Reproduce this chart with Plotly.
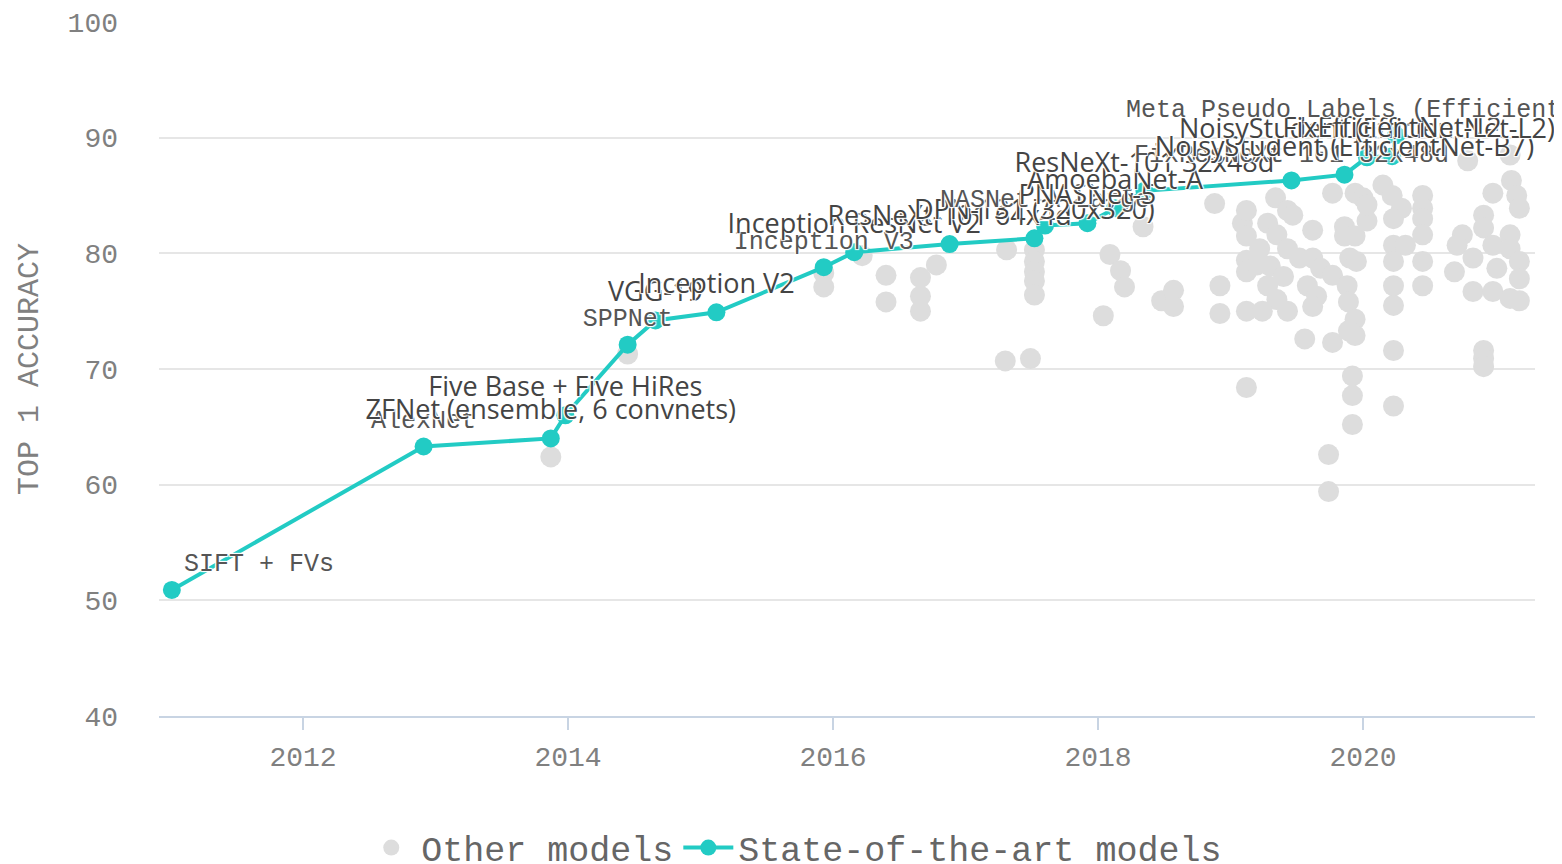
import plotly.graph_objects as go

# state-of-the-art models (year as decimal, top-1 accuracy %)
sota_names = [
    "SIFT + FVs", "AlexNet", "ZFNet (ensemble, 6 convnets)", "Five Base + Five HiRes",
    "SPPNet", "VGG-19", "Inception V2", "Inception V3", "Inception ResNet V2",
    "ResNeXt-101 64x4d", "DPN-131 (320x320)", "NASNet-A Large", "PNASNet-5",
    "AmoebaNet-A", "ResNeXt-101 32x48d", "FixResNeXt-101 32x48d",
    "NoisyStudent (EfficientNet-B7)", "NoisyStudent (EfficientNet-L2)",
    "FixEfficientNet-L2", "Meta Pseudo Labels (EfficientNet-L2)",
]
sota_year = [
    2011.01, 2012.91, 2013.87, 2013.98, 2014.45, 2014.66, 2015.12, 2015.93, 2016.16,
    2016.88, 2017.52, 2017.60, 2017.92, 2018.13, 2018.35, 2019.46, 2019.86, 2020.03,
    2020.22, 2020.25,
]
sota_acc = [
    50.9, 63.3, 64.0, 66.0, 72.1, 74.2, 74.9, 78.8, 80.1,
    80.8, 81.3, 82.4, 82.6, 83.9, 85.4, 86.3, 86.8, 88.3,
    88.4, 90.2,
]
# which labels use the serif face (the others use the sans face)
sota_serif = [
    True, True, False, False, True, False, False, True, False,
    False, False, True, False, False, False, True, False, False,
    False, True,
]

# other models
other_year = [
    2013.87, 2014.45, 2015.93, 2015.93, 2016.22, 2016.40, 2016.40, 2016.66, 2016.66, 2016.66,
    2016.78, 2017.31, 2017.52, 2017.52, 2017.52, 2017.52, 2017.52, 2017.30, 2017.49, 2018.04,
    2018.09, 2018.17, 2018.20, 2018.34, 2018.48, 2018.57, 2018.57, 2018.88, 2018.92, 2018.92,
    2019.09, 2019.12, 2019.12, 2019.12, 2019.12, 2019.12, 2019.12, 2019.34, 2019.43, 2019.28,
    2019.35, 2019.22, 2019.43, 2019.28, 2019.35, 2019.24, 2019.43, 2019.47, 2019.62, 2019.52,
    2019.62, 2019.68, 2019.58, 2019.65, 2019.62, 2019.56, 2019.77, 2019.74, 2019.74, 2019.77,
    2019.86, 2019.86, 2019.90, 2019.77, 2019.88, 2019.89, 2019.94, 2019.89, 2019.92, 2019.92,
    2019.92, 2019.94, 2019.94, 2019.95, 2019.94, 2020.00, 2020.03, 2020.03, 2020.15, 2020.22,
    2020.29, 2020.23, 2020.23, 2020.32, 2020.23, 2020.23, 2020.23, 2020.23, 2020.23, 2020.45,
    2020.45, 2020.45, 2020.45, 2020.45, 2020.45, 2020.75, 2020.71, 2020.69, 2020.83, 2020.83,
    2020.79, 2020.91, 2020.91, 2020.91, 2020.98, 2020.91, 2020.91, 2020.98, 2021.01, 2020.98,
    2021.11, 2021.12, 2021.16, 2021.18, 2021.11, 2021.11, 2021.18, 2021.18, 2021.11, 2021.18,
    2019.30, 2019.40, 2019.20,
]
other_acc = [
    62.4, 71.3, 78.3, 77.1, 79.8, 78.1, 75.8, 77.9, 76.3, 75.0,
    79.0, 80.3, 80.3, 79.3, 78.4, 77.6, 76.4, 70.7, 70.9, 74.6,
    79.9, 78.5, 77.1, 82.3, 75.9, 76.8, 75.4, 84.3, 77.2, 74.8,
    82.6, 83.7, 81.5, 79.4, 78.4, 75.0, 68.4, 84.8, 83.7, 82.6,
    81.6, 80.4, 80.4, 77.2, 76.0, 75.0, 75.0, 83.3, 82.0, 79.6,
    79.6, 78.7, 77.2, 76.3, 75.4, 72.6, 72.3, 62.6, 59.4, 85.2,
    82.3, 81.5, 79.6, 78.1, 77.2, 75.8, 74.3, 73.3, 69.4, 67.7,
    65.2, 85.2, 81.5, 79.3, 72.9, 84.8, 82.8, 84.2, 85.9, 85.0,
    83.9, 83.0, 80.7, 80.7, 79.3, 77.2, 75.5, 71.6, 66.8, 85.0,
    83.9, 83.0, 81.6, 79.3, 77.2, 81.6, 80.7, 78.4, 79.6, 76.7,
    88.0, 71.6, 70.9, 70.2, 85.2, 83.3, 82.2, 80.7, 78.7, 76.7,
    88.5, 86.3, 85.0, 83.9, 81.6, 80.4, 79.3, 77.8, 76.1, 75.9,
    78.9, 78.0, 79.0,
]

x_ticks = [2012, 2014, 2016, 2018, 2020]
y_ticks = [40, 50, 60, 70, 80, 90, 100]

TEAL = "#22cbc4"
GREY = "#dddddd"
SERIF = "Liberation Mono"
SANS = "Open Sans"

fig = go.Figure()

fig.add_trace(go.Scatter(
    x=other_year, y=other_acc,
    mode="markers",
    name="Other models",
    marker=dict(color=GREY, size=21),
    hoverinfo="skip",
))

# first label sits to the right of its point, the rest are centred above
text_pos = ["top right"] + ["top center"] * (len(sota_names) - 1)

fig.add_trace(go.Scatter(
    x=sota_year, y=sota_acc,
    mode="lines+markers+text",
    name="State-of-the-art models",
    text=sota_names,
    textposition=text_pos,
    textfont=dict(
        family=[SERIF if s else SANS for s in sota_serif],
        size=[25 if s else 27 for s in sota_serif],
        color=["#555555" if s else "#444444" for s in sota_serif],
        shadow="auto",
    ),
    line=dict(color=TEAL, width=4),
    marker=dict(color=TEAL, size=18),
    cliponaxis=False,
))

# page body adds an 8px offset, margins compensate for it
fig.update_layout(
    width=1562, height=880,
    margin=dict(l=151, r=35, t=14, b=172, autoexpand=False),
    paper_bgcolor="white",
    plot_bgcolor="white",
    showlegend=True,
    legend=dict(
        orientation="h", x=0.147, xanchor="left", y=-0.19, yanchor="middle",
        font=dict(family=SERIF, size=35, color="#666666"),
        itemwidth=50,
    ),
    xaxis=dict(
        range=[2010.913, 2021.298],
        tickvals=x_ticks, ticktext=[str(v) for v in x_ticks],
        showgrid=False, zeroline=False,
        showline=True, linecolor="#c8d4e3", linewidth=2,
        ticks="outside", ticklen=12, tickcolor="#c8d4e3", tickwidth=2,
        tickfont=dict(family=SERIF, size=28, color="#808080"),
        ticklabelstandoff=2,
    ),
    yaxis=dict(
        range=[40, 100],
        tickvals=y_ticks,
        showgrid=True, gridcolor="#e6e6e6", gridwidth=2,
        zeroline=False, showline=False,
        tickfont=dict(family=SERIF, size=28, color="#808080"),
        ticklabelstandoff=40,
        title=dict(text="TOP 1 ACCURACY", font=dict(family=SERIF, size=30, color="#808080"),
                   standoff=20),
    ),
)

fig.write_html("out.html")
